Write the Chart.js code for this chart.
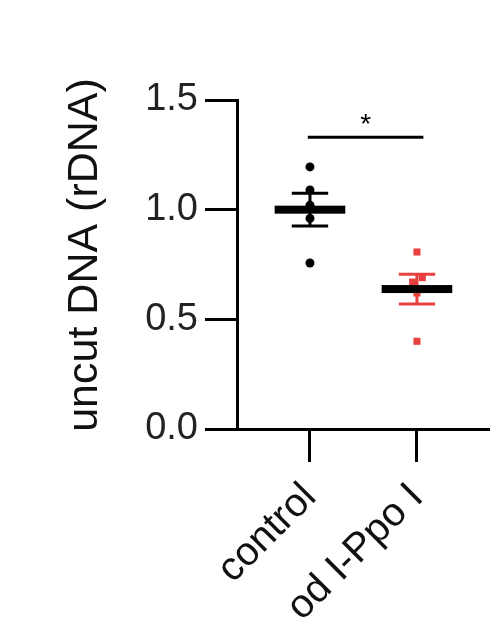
<!DOCTYPE html>
<html><head><meta charset="utf-8">
<script src="https://cdn.jsdelivr.net/npm/chart.js@4"></script>
<style>html,body{margin:0;padding:0;background:#fff}#c{display:block}</style>
</head><body>
<div style="width:499px;height:623px"><canvas id="c"></canvas></div>
<script>
const categories = ["control", "od I-Ppo I"];
const controlValues = [1.195, 1.09, 1.02, 0.96, 0.757];
const treatedValues = [0.807, 0.69, 0.67, 0.62, 0.40];
const treatedJitter = [0, 0.05, -0.04, 0, 0];
const controlJitter = [0, 0, 0, 0, 0];
const means = [1.0, 0.638];
const sems = [0.075, 0.068];
const yTicks = [0, 0.5, 1.0, 1.5];
const colors = ["#000000", "#e8403e"];

const overlay = {
  id: 'overlay',
  afterDatasetsDraw(chart) {
    const ctx = chart.ctx, x = chart.scales.x, y = chart.scales.y;
    ctx.save();
    means.forEach((m, i) => {
      const cx = x.getPixelForValue(i);
      const hw = x.getPixelForValue(i + 0.33) - cx;
      const cw = x.getPixelForValue(i + 0.17) - cx;
      ctx.strokeStyle = colors[i]; ctx.lineWidth = 3;
      const top = y.getPixelForValue(m + sems[i]), bot = y.getPixelForValue(m - sems[i]);
      ctx.beginPath();
      ctx.moveTo(cx, top); ctx.lineTo(cx, bot);
      ctx.moveTo(cx - cw, top); ctx.lineTo(cx + cw, top);
      ctx.moveTo(cx - cw, bot); ctx.lineTo(cx + cw, bot);
      ctx.stroke();
      ctx.fillStyle = '#000';
      const my = y.getPixelForValue(m);
      ctx.fillRect(cx - hw, my - 4, hw * 2, 8);
    });
    const sy = y.getPixelForValue(1.33);
    ctx.strokeStyle = '#000'; ctx.lineWidth = 3;
    ctx.beginPath();
    ctx.moveTo(x.getPixelForValue(-0.02), sy); ctx.lineTo(x.getPixelForValue(1.06), sy); ctx.stroke();
    ctx.fillStyle = '#000'; ctx.font = '28px "Liberation Sans"'; ctx.textAlign = 'center';
    ctx.fillText('*', x.getPixelForValue(0.52), sy - 4);
    ctx.translate(85, 255); ctx.rotate(-Math.PI / 2);
    ctx.font = '43px "Liberation Sans"'; ctx.fillStyle = '#111'; ctx.textBaseline = 'middle';
    ctx.fillText('uncut DNA (rDNA)', 0, 0);
    ctx.restore();
  }
};

new Chart(document.getElementById('c'), {
  type: 'scatter',
  data: {
    datasets: [
      { data: controlValues.map((v, j) => ({ x: 0 + controlJitter[j], y: v })), pointStyle: 'circle', pointRadius: 4.5, backgroundColor: colors[0], borderWidth: 0 },
      { data: treatedValues.map((v, j) => ({ x: 1 + treatedJitter[j], y: v })), pointStyle: 'rect', pointRadius: 5, backgroundColor: colors[1], borderWidth: 0 }
    ]
  },
  options: {
    animation: false, responsive: true, maintainAspectRatio: false,
    layout: { padding: { top: 100, right: 11, left: 0, bottom: 0 } },
    plugins: { legend: { display: false }, tooltip: { enabled: false } },
    scales: {
      x: {
        type: 'linear', min: -0.682, max: 1.664,
        afterBuildTicks(s) { s.ticks = [{ value: 0 }, { value: 1 }]; },
        afterFit(s) { s.height = 194; },
        grid: { drawOnChartArea: false, tickLength: 33, lineWidth: 3, color: '#000' },
        border: { color: '#000', width: 3 },
        ticks: { callback: v => categories[v], minRotation: 45, maxRotation: 45, color: '#111', font: { size: 40, family: 'Liberation Sans' }, padding: 12 }
      },
      y: {
        min: 0, max: 1.5,
        afterBuildTicks(s) { s.ticks = yTicks.map(v => ({ value: v })); },
        afterFit(s) { s.width = 237; },
        grid: { drawOnChartArea: false, tickLength: 32, lineWidth: 3, color: '#000' },
        border: { color: '#000', width: 3 },
        ticks: { callback: v => v.toFixed(1), color: '#222', font: { size: 38, family: 'Liberation Sans' }, padding: 7 }
      }
    }
  },
  plugins: [overlay]
});
</script>
</body></html>
